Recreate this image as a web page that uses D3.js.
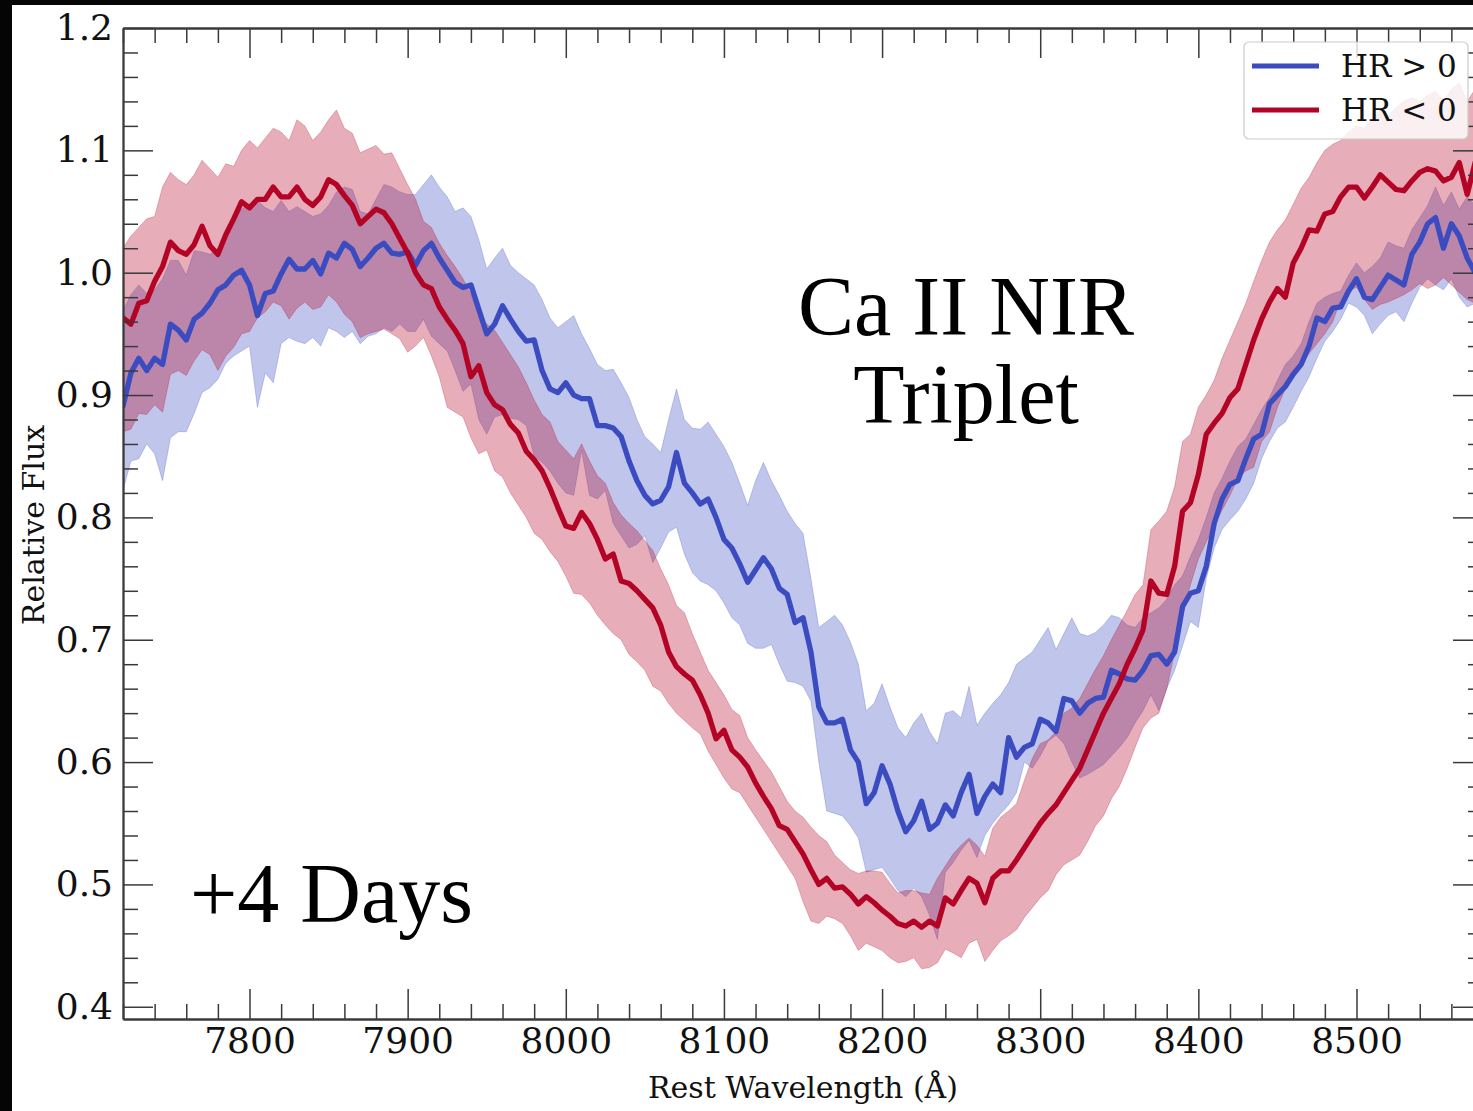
<!DOCTYPE html>
<html><head><meta charset="utf-8">
<script src="https://cdn.jsdelivr.net/npm/d3@7"></script>
<style>body{margin:0;background:#000;}svg{display:block}</style>
</head><body>
<svg id="c" width="1473" height="1111"></svg>
<script>
// Rest wavelength grid (Å)
const wavelength = [
7720,7725,7730,7735,7740,7745,7750,7755,7760,7765,
7770,7775,7780,7785,7790,7795,7800,7805,7810,7815,
7820,7825,7830,7835,7840,7845,7850,7855,7860,7865,
7870,7875,7880,7885,7890,7895,7900,7905,7910,7915,
7920,7925,7930,7935,7940,7945,7950,7955,7960,7965,
7970,7975,7980,7985,7990,7995,8000,8005,8010,8015,
8020,8025,8030,8035,8040,8045,8050,8055,8060,8065,
8070,8075,8080,8085,8090,8095,8100,8105,8110,8115,
8120,8125,8130,8135,8140,8145,8150,8155,8160,8165,
8170,8175,8180,8185,8190,8195,8200,8205,8210,8215,
8220,8225,8230,8235,8240,8245,8250,8255,8260,8265,
8270,8275,8280,8285,8290,8295,8300,8305,8310,8315,
8320,8325,8330,8335,8340,8345,8350,8355,8360,8365,
8370,8375,8380,8385,8390,8395,8400,8405,8410,8415,
8420,8425,8430,8435,8440,8445,8450,8455,8460,8465,
8470,8475,8480,8485,8490,8495,8500,8505,8510,8515,
8520,8525,8530,8535,8540,8545,8550,8555,8560,8565,
8570,8575,8580];

// HR > 0 (blue) mean and band
const hrPosMean = [
0.891,0.918,0.930,0.920,0.930,0.925,0.958,0.953,0.945,0.962,
0.967,0.975,0.986,0.990,0.998,1.002,0.990,0.965,0.983,0.985,
0.999,1.011,1.003,1.003,1.010,0.999,1.016,1.012,1.024,1.019,
1.005,1.012,1.020,1.024,1.016,1.015,1.017,1.006,1.018,1.024,
1.012,1.002,0.992,0.988,0.990,0.970,0.950,0.958,0.973,0.962,
0.952,0.944,0.945,0.920,0.905,0.902,0.910,0.900,0.897,0.897,
0.875,0.875,0.873,0.866,0.846,0.830,0.818,0.811,0.814,0.825,
0.853,0.828,0.820,0.811,0.815,0.800,0.782,0.775,0.762,0.747,
0.757,0.767,0.758,0.742,0.737,0.714,0.718,0.690,0.645,0.632,
0.632,0.635,0.610,0.600,0.566,0.575,0.597,0.582,0.560,0.543,
0.552,0.568,0.545,0.550,0.565,0.556,0.575,0.590,0.558,0.572,
0.582,0.575,0.620,0.604,0.612,0.615,0.635,0.632,0.625,0.652,
0.650,0.640,0.648,0.652,0.653,0.675,0.672,0.668,0.667,0.675,
0.687,0.688,0.680,0.690,0.727,0.738,0.740,0.760,0.795,0.815,
0.827,0.830,0.848,0.864,0.868,0.893,0.900,0.907,0.917,0.925,
0.940,0.963,0.960,0.971,0.972,0.985,0.995,0.980,0.978,0.988,
0.998,0.994,0.990,1.015,1.025,1.040,1.045,1.020,1.040,1.030,
1.012,1.000,0.995];
const hrPosHigh = [
0.969,0.982,0.990,0.983,0.986,0.995,1.010,1.010,0.998,1.018,
1.017,1.015,1.020,1.028,1.042,1.052,1.056,1.059,1.053,1.050,
1.059,1.050,1.054,1.050,1.046,1.048,1.055,1.066,1.070,1.068,
1.050,1.048,1.060,1.072,1.070,1.066,1.064,1.064,1.072,1.080,
1.070,1.062,1.050,1.053,1.046,1.027,1.003,1.012,1.020,1.006,
1.000,0.995,0.990,0.978,0.963,0.955,0.960,0.965,0.950,0.938,
0.925,0.920,0.921,0.910,0.898,0.880,0.866,0.860,0.853,0.880,
0.905,0.880,0.873,0.872,0.878,0.868,0.858,0.845,0.828,0.810,
0.830,0.845,0.830,0.818,0.805,0.795,0.787,0.750,0.710,0.715,
0.720,0.712,0.698,0.680,0.642,0.648,0.664,0.645,0.628,0.620,
0.632,0.640,0.625,0.615,0.640,0.642,0.636,0.662,0.630,0.640,
0.648,0.655,0.665,0.680,0.685,0.690,0.700,0.710,0.692,0.705,
0.718,0.705,0.703,0.706,0.712,0.720,0.718,0.712,0.710,0.718,
0.722,0.726,0.733,0.745,0.752,0.768,0.782,0.800,0.820,0.832,
0.846,0.858,0.864,0.876,0.888,0.898,0.912,0.925,0.932,0.942,
0.960,0.975,0.980,0.983,0.985,0.998,1.008,1.000,1.005,1.012,
1.025,1.022,1.020,1.035,1.045,1.055,1.070,1.055,1.066,1.052,
1.062,1.055,1.050];
const hrPosLow = [
0.822,0.846,0.848,0.860,0.852,0.830,0.865,0.870,0.870,0.885,
0.902,0.906,0.913,0.926,0.932,0.936,0.940,0.890,0.918,0.910,
0.942,0.947,0.944,0.942,0.947,0.940,0.955,0.952,0.947,0.952,
0.942,0.948,0.950,0.955,0.952,0.958,0.952,0.952,0.962,0.948,
0.942,0.936,0.920,0.903,0.909,0.880,0.868,0.882,0.884,0.881,
0.880,0.875,0.850,0.845,0.838,0.828,0.820,0.818,0.855,0.818,
0.815,0.822,0.795,0.785,0.775,0.778,0.785,0.763,0.775,0.788,
0.792,0.770,0.755,0.748,0.745,0.740,0.730,0.718,0.712,0.697,
0.693,0.693,0.696,0.680,0.666,0.665,0.662,0.650,0.600,0.560,
0.558,0.556,0.548,0.538,0.510,0.512,0.514,0.505,0.495,0.490,
0.497,0.490,0.475,0.455,0.510,0.518,0.528,0.536,0.522,0.540,
0.550,0.558,0.565,0.575,0.600,0.595,0.605,0.617,0.622,0.615,
0.600,0.587,0.590,0.594,0.598,0.605,0.612,0.620,0.632,0.642,
0.655,0.642,0.660,0.675,0.695,0.715,0.710,0.750,0.775,0.790,
0.798,0.805,0.815,0.828,0.848,0.862,0.873,0.878,0.890,0.903,
0.915,0.930,0.944,0.952,0.962,0.975,0.972,0.965,0.950,0.958,
0.965,0.968,0.960,0.975,0.988,0.995,0.990,0.986,0.995,0.980,
0.972,0.975,0.975];

// HR < 0 (red) mean and band
const hrNegMean = [
0.963,0.958,0.975,0.977,0.993,1.005,1.025,1.018,1.015,1.023,
1.038,1.022,1.015,1.031,1.044,1.058,1.053,1.060,1.060,1.070,
1.062,1.062,1.070,1.060,1.055,1.062,1.076,1.072,1.063,1.055,
1.040,1.046,1.052,1.049,1.040,1.028,1.016,1.000,0.990,0.987,
0.972,0.962,0.953,0.942,0.915,0.924,0.902,0.892,0.888,0.876,
0.869,0.854,0.847,0.838,0.824,0.808,0.793,0.791,0.804,0.795,
0.782,0.766,0.770,0.748,0.746,0.740,0.733,0.726,0.712,0.690,
0.678,0.672,0.667,0.655,0.640,0.619,0.626,0.610,0.604,0.596,
0.583,0.572,0.562,0.548,0.545,0.535,0.525,0.512,0.500,0.505,
0.497,0.498,0.492,0.484,0.490,0.485,0.479,0.474,0.468,0.466,
0.470,0.465,0.470,0.466,0.489,0.484,0.495,0.505,0.501,0.485,
0.505,0.511,0.511,0.520,0.530,0.540,0.550,0.558,0.565,0.575,
0.585,0.595,0.610,0.625,0.640,0.652,0.664,0.680,0.693,0.708,
0.748,0.738,0.737,0.760,0.805,0.812,0.835,0.868,0.877,0.885,
0.898,0.905,0.925,0.945,0.962,0.976,0.987,0.980,1.008,1.020,
1.035,1.034,1.048,1.050,1.062,1.070,1.070,1.061,1.070,1.080,
1.074,1.068,1.067,1.075,1.082,1.085,1.083,1.075,1.078,1.090,
1.064,1.090,1.080];
const hrNegHigh = [
1.020,1.030,1.037,1.044,1.046,1.070,1.082,1.076,1.072,1.080,
1.092,1.085,1.078,1.089,1.087,1.100,1.108,1.102,1.110,1.118,
1.115,1.108,1.125,1.120,1.108,1.115,1.125,1.133,1.118,1.114,
1.098,1.101,1.104,1.097,1.098,1.085,1.072,1.060,1.042,1.037,
1.024,1.014,1.005,0.995,0.982,0.965,0.958,0.953,0.943,0.933,
0.923,0.910,0.896,0.884,0.878,0.862,0.855,0.848,0.860,0.846,
0.834,0.828,0.812,0.802,0.795,0.789,0.781,0.773,0.758,0.745,
0.728,0.722,0.705,0.690,0.675,0.665,0.655,0.643,0.638,0.620,
0.610,0.601,0.592,0.580,0.568,0.560,0.555,0.547,0.540,0.535,
0.524,0.518,0.512,0.509,0.511,0.511,0.510,0.501,0.493,0.495,
0.495,0.493,0.492,0.505,0.515,0.525,0.532,0.538,0.532,0.523,
0.546,0.555,0.560,0.566,0.585,0.603,0.615,0.618,0.625,0.640,
0.644,0.652,0.664,0.676,0.687,0.700,0.712,0.724,0.737,0.745,
0.790,0.797,0.805,0.825,0.862,0.868,0.890,0.900,0.912,0.930,
0.945,0.960,0.975,0.993,1.010,1.025,1.035,1.043,1.056,1.069,
1.078,1.090,1.100,1.105,1.108,1.115,1.120,1.118,1.125,1.132,
1.128,1.135,1.140,1.143,1.140,1.145,1.148,1.140,1.150,1.155,
1.140,1.150,1.145];
const hrNegLow = [
0.870,0.872,0.885,0.884,0.892,0.886,0.917,0.920,0.916,0.928,
0.937,0.933,0.920,0.932,0.939,0.950,0.952,0.963,0.968,0.976,
0.973,0.962,0.971,0.976,0.970,0.972,0.982,0.976,0.966,0.960,
0.947,0.950,0.952,0.954,0.950,0.946,0.935,0.940,0.947,0.932,
0.915,0.890,0.886,0.882,0.865,0.852,0.855,0.838,0.833,0.820,
0.810,0.800,0.787,0.782,0.772,0.764,0.752,0.738,0.737,0.730,
0.720,0.712,0.705,0.700,0.688,0.682,0.675,0.662,0.658,0.648,
0.640,0.634,0.628,0.623,0.609,0.598,0.587,0.578,0.575,0.565,
0.555,0.545,0.535,0.525,0.515,0.505,0.486,0.470,0.468,0.474,
0.472,0.468,0.458,0.446,0.452,0.449,0.446,0.440,0.436,0.437,
0.440,0.431,0.432,0.436,0.447,0.444,0.440,0.452,0.455,0.437,
0.446,0.454,0.458,0.463,0.473,0.481,0.489,0.495,0.508,0.516,
0.520,0.524,0.535,0.548,0.556,0.570,0.580,0.595,0.612,0.628,
0.636,0.640,0.660,0.690,0.720,0.745,0.766,0.780,0.793,0.806,
0.818,0.832,0.838,0.841,0.862,0.870,0.890,0.905,0.915,0.925,
0.934,0.942,0.950,0.960,0.978,0.985,0.988,0.978,0.970,0.974,
0.976,0.979,0.982,0.986,0.991,0.987,0.990,0.996,0.990,0.984,
0.978,0.975,0.975];

const xMajorTicks = [7800,7900,8000,8100,8200,8300,8400,8500];
const yMajorTicks = [0.4,0.5,0.6,0.7,0.8,0.9,1.0,1.1,1.2];
const yTickLabels = ["0.4","0.5","0.6","0.7","0.8","0.9","1.0","1.1","1.2"];
const seriesNames = ["HR > 0","HR < 0"];
const seriesColors = ["#3b4cc0","#b40426"];

const svg = d3.select("#c");
// dark frame
svg.append("rect").attr("width",1473).attr("height",1111).attr("fill","#050505");
svg.append("rect").attr("x",12).attr("y",5).attr("width",1461).attr("height",1106).attr("fill","#ffffff");

const L=123,R=1483,T=28,B=1019;
const x = d3.scaleLinear().domain([7720,8580]).range([L,R]);
const y = d3.scaleLinear().domain([0.39,1.2]).range([B,T]);

svg.append("defs").append("clipPath").attr("id","clip")
  .append("rect").attr("x",L).attr("y",T).attr("width",R-L).attr("height",B-T);
const plot = svg.append("g").attr("clip-path","url(#clip)");

const idx = d3.range(wavelength.length);
function band(lo,hi){
  return d3.area().x(i=>x(wavelength[i])).y0(i=>y(lo[i])).y1(i=>y(hi[i]))(idx);
}
function mean(m){
  return d3.line().x(i=>x(wavelength[i])).y(i=>y(m[i]))(idx);
}
const bands = [[hrPosLow,hrPosHigh],[hrNegLow,hrNegHigh]];
bands.forEach((b,k)=>{
  plot.append("path").attr("d",band(b[0],b[1]))
    .attr("fill",seriesColors[k]).attr("fill-opacity",0.32)
    .attr("stroke",seriesColors[k]).attr("stroke-opacity",0.25).attr("stroke-width",1);
});
[hrPosMean,hrNegMean].forEach((m,k)=>{
  plot.append("path").attr("d",mean(m)).attr("fill","none")
    .attr("stroke",seriesColors[k]).attr("stroke-width",5.3)
    .attr("stroke-linejoin","round").attr("stroke-linecap","round");
});

// axes
const axisCol="#3a3a3a";
function styleAxis(g){
  g.selectAll(".domain").attr("stroke",axisCol).attr("stroke-width",1.8);
  g.selectAll(".tick line").attr("stroke",axisCol).attr("stroke-width",1.5);
  g.selectAll("text").attr("font-family","'DejaVu Serif'").attr("font-size",36).attr("fill","#111");
}
const xMinor = d3.range(7720,8581,20).filter(v=>!xMajorTicks.includes(v));
const yMinor = d3.range(0,41).map(i=>+(0.4+i*0.02).toFixed(2)).filter(v=>!yMajorTicks.some(t=>Math.abs(t-v)<1e-6));

// bottom
svg.append("g").attr("transform",`translate(0,${B})`)
  .call(d3.axisBottom(x).tickValues(xMinor).tickSize(-15).tickSizeOuter(0).tickFormat(""))
  .call(styleAxis);
svg.append("g").attr("transform",`translate(0,${B})`)
  .call(d3.axisBottom(x).tickValues(xMajorTicks).tickSize(-30).tickSizeOuter(0).tickPadding(8).tickFormat(d3.format("d")))
  .call(styleAxis);
// top
svg.append("g").attr("transform",`translate(0,${T})`)
  .call(d3.axisTop(x).tickValues(xMinor).tickSize(-15).tickSizeOuter(0).tickFormat(""))
  .call(styleAxis);
svg.append("g").attr("transform",`translate(0,${T})`)
  .call(d3.axisTop(x).tickValues(xMajorTicks).tickSize(-30).tickSizeOuter(0).tickFormat(""))
  .call(styleAxis);
// left
svg.append("g").attr("transform",`translate(${L},0)`)
  .call(d3.axisLeft(y).tickValues(yMinor).tickSize(-15).tickSizeOuter(0).tickFormat(""))
  .call(styleAxis);
svg.append("g").attr("transform",`translate(${L},0)`)
  .call(d3.axisLeft(y).tickValues(yMajorTicks).tickSize(-30).tickSizeOuter(0).tickPadding(10)
    .tickFormat((d,i)=>yTickLabels[i]))
  .call(styleAxis);
// right
svg.append("g").attr("transform",`translate(${R},0)`)
  .call(d3.axisRight(y).tickValues(yMinor).tickSize(-15).tickSizeOuter(0).tickFormat(""))
  .call(styleAxis);
svg.append("g").attr("transform",`translate(${R},0)`)
  .call(d3.axisRight(y).tickValues(yMajorTicks).tickSize(-30).tickSizeOuter(0).tickFormat(""))
  .call(styleAxis);

// axis labels
svg.append("text").attr("x",803).attr("y",1098).attr("text-anchor","middle")
  .attr("font-family","'DejaVu Serif'").attr("font-size",30).attr("fill","#111")
  .text("Rest Wavelength (Å)");
svg.append("text").attr("transform","translate(44,525) rotate(-90)").attr("text-anchor","middle")
  .attr("font-family","'DejaVu Serif'").attr("font-size",30).attr("fill","#111")
  .text("Relative Flux");

// annotations
const ann = svg.append("g").attr("font-family","'Liberation Serif'").attr("font-size",84).attr("fill","#000");
ann.append("text").attr("x",966).attr("y",335).attr("text-anchor","middle").text("Ca II NIR");
ann.append("text").attr("x",966).attr("y",423).attr("text-anchor","middle").text("Triplet");
ann.append("text").attr("x",190).attr("y",922).text("+4 Days");

// legend
const lg = svg.append("g");
lg.append("rect").attr("x",1244).attr("y",42).attr("width",224).attr("height",97).attr("rx",5)
  .attr("fill","#ffffff").attr("fill-opacity",0.8).attr("stroke","#cccccc").attr("stroke-width",1.2);
seriesNames.forEach((n,k)=>{
  const yy = 66 + k*44;
  lg.append("line").attr("x1",1252).attr("x2",1319).attr("y1",yy).attr("y2",yy)
    .attr("stroke",seriesColors[k]).attr("stroke-width",5);
  lg.append("text").attr("x",1341).attr("y",yy+11).attr("font-family","'DejaVu Serif'")
    .attr("font-size",31).attr("fill","#111").text(n);
});
</script>
</body></html>
